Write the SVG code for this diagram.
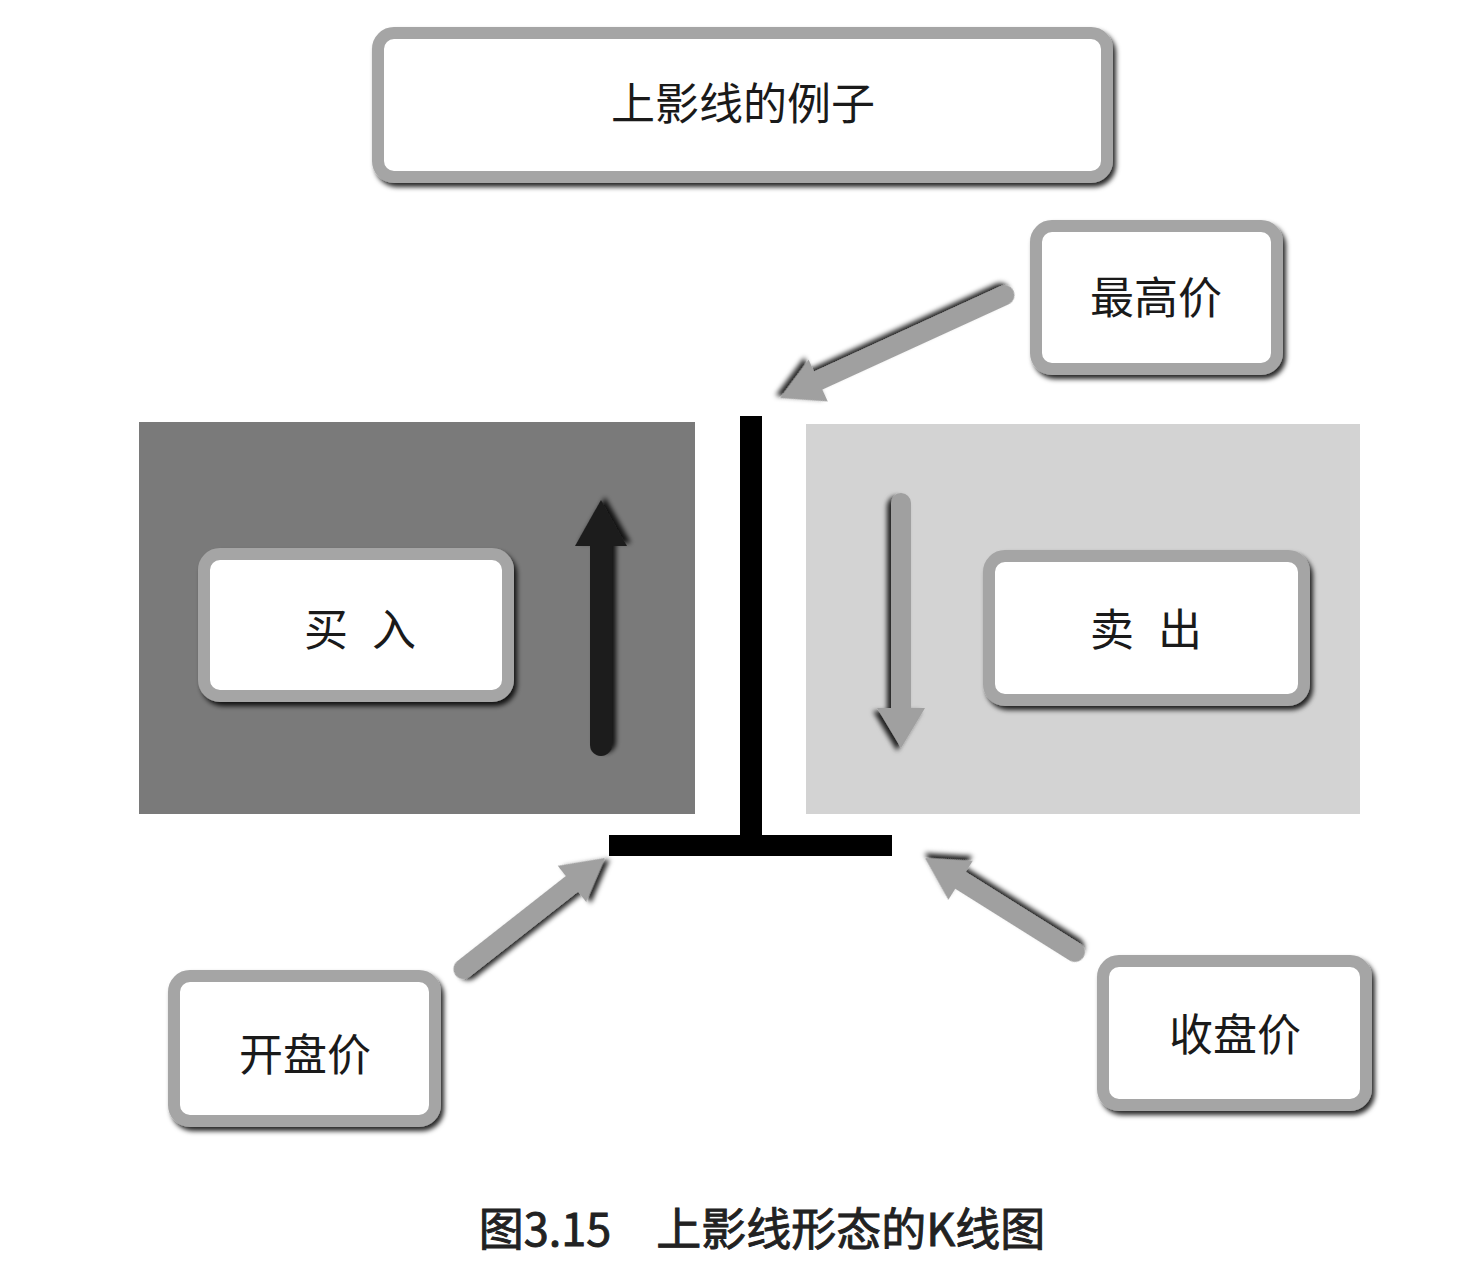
<svg xmlns="http://www.w3.org/2000/svg" width="1460" height="1276" viewBox="0 0 1460 1276">
<style>
.box{fill:#ffffff;stroke:#a5a5a5;stroke-width:12}
.lbl{font-family:"Noto Sans CJK SC","Noto Sans",sans-serif;font-size:44px;fill:#1a1a1a;text-anchor:middle;dominant-baseline:central}
.cap{font-family:"Noto Sans CJK SC","Noto Sans",sans-serif;font-size:45px;font-weight:normal;fill:#222;stroke:#222;stroke-width:0.9;text-anchor:middle}
.shaftg{stroke:#a0a0a0;stroke-width:20;stroke-linecap:round;fill:none}
.headg{fill:#a0a0a0}
</style>
<defs>
<filter id="sh" x="-20%" y="-20%" width="140%" height="150%">
<feDropShadow dx="3" dy="4" stdDeviation="2.5" flood-color="#000" flood-opacity="0.85"/>
</filter>
</defs>
<rect width="1460" height="1276" fill="#ffffff"/>

<g id="panel-buy">
<rect x="139" y="422" width="556" height="392" fill="#7a7a7a"/>
</g>
<g id="panel-sell">
<rect x="806" y="424" width="554" height="390" fill="#d3d3d3"/>
</g>

<g id="candle">
<rect x="740" y="416" width="22" height="424" fill="#000"/>
<rect x="609" y="835" width="283" height="21" fill="#000"/>
</g>

<g id="title">
<rect class="box" x="378" y="33" width="729" height="144" rx="16" filter="url(#sh)"/>
<text class="lbl" x="743" y="101">上影线的例子</text>
</g>

<g id="high">
<rect class="box" x="1036" y="226" width="241" height="143" rx="16" filter="url(#sh)"/>
<text class="lbl" x="1156" y="295">最高价</text>
</g>

<g id="buy">
<rect class="box" x="204" y="554" width="304" height="142" rx="16" filter="url(#sh)"/>
<text class="lbl" x="360" y="627" font-size="42" word-spacing="14">买 入</text>
</g>

<g id="sell">
<rect class="box" x="989" y="556" width="315" height="144" rx="16" filter="url(#sh)"/>
<text class="lbl" x="1146" y="627" font-size="42" word-spacing="14">卖 出</text>
</g>

<g id="open">
<rect class="box" x="174" y="976" width="261" height="145" rx="16" filter="url(#sh)"/>
<text class="lbl" x="305" y="1052">开盘价</text>
</g>

<g id="close">
<rect class="box" x="1103" y="961" width="263" height="144" rx="16" filter="url(#sh)"/>
<text class="lbl" x="1235" y="1032">收盘价</text>
</g>

<g id="connectors">
<g filter="url(#sh)" transform="translate(780,398) rotate(155.4)">
<line class="shaftg" x1="-247" y1="0" x2="-36" y2="0"/>
<polygon class="headg" points="0,0 -42,-23 -42,23"/>
</g>
<g filter="url(#sh)" transform="translate(605,858) rotate(-38.1)">
<line class="shaftg" x1="-180" y1="0" x2="-36" y2="0"/>
<polygon class="headg" points="0,0 -42,-23 -42,23"/>
</g>
<g filter="url(#sh)" transform="translate(925,858) rotate(-147.9)">
<line class="shaftg" x1="-177" y1="0" x2="-36" y2="0"/>
<polygon class="headg" points="0,0 -42,-23 -42,23"/>
</g>
<g filter="url(#sh)" transform="translate(601,500) rotate(-90)">
<line x1="-245" y1="0" x2="-40" y2="0" stroke="#1e1e1e" stroke-width="22" stroke-linecap="round"/>
<polygon points="0,0 -46,-26 -46,26" fill="#1e1e1e"/>
</g>
<g filter="url(#sh)" transform="translate(901,748) rotate(90)">
<line class="shaftg" x1="-245" y1="0" x2="-34" y2="0"/>
<polygon class="headg" points="0,0 -40,-24 -40,24"/>
</g>
</g>

<text class="cap" x="762" y="1246">图3.15　上影线形态的K线图</text>
</svg>
